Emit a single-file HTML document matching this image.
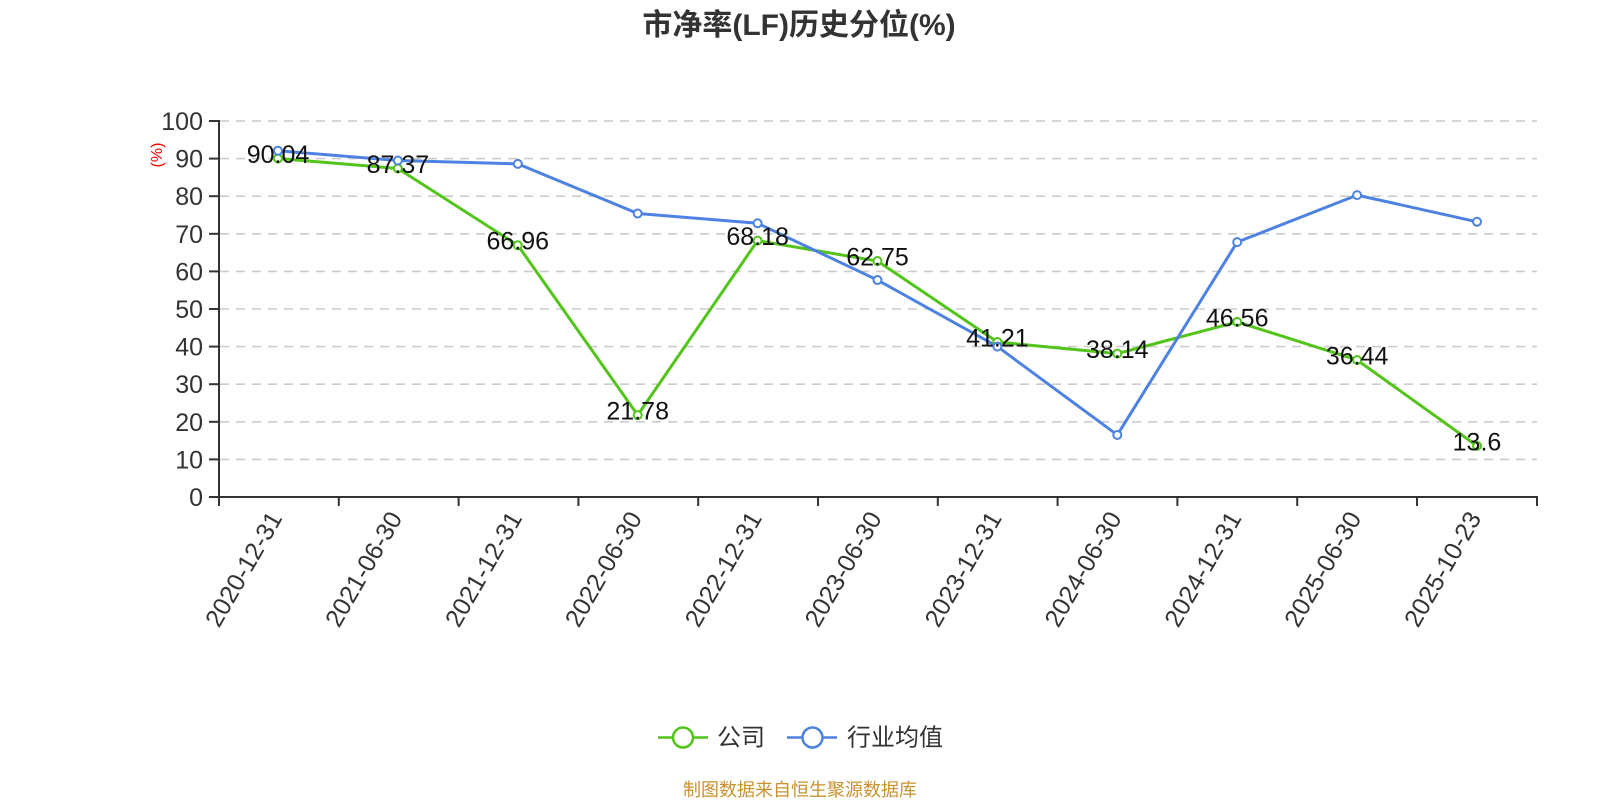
<!DOCTYPE html>
<html><head><meta charset="utf-8"><style>
html,body{margin:0;padding:0;background:#fff;}
svg{display:block;}
text{font-family:"Liberation Sans","Noto Sans CJK SC",sans-serif;}
</style></head><body>
<svg width="1600" height="800" viewBox="0 0 1600 800" xmlns="http://www.w3.org/2000/svg">
<rect width="1600" height="800" fill="#fff"/>
<text x="799" y="35" text-anchor="middle" font-size="30" font-weight="bold" fill="#333">市净率(LF)历史分位(%)</text>
<g stroke="#ccc" stroke-width="1.6" stroke-dasharray="9 7" fill="none">
<line x1="220" y1="121" x2="1537" y2="121"/>
<line x1="220" y1="158.6" x2="1537" y2="158.6"/>
<line x1="220" y1="196.2" x2="1537" y2="196.2"/>
<line x1="220" y1="233.8" x2="1537" y2="233.8"/>
<line x1="220" y1="271.4" x2="1537" y2="271.4"/>
<line x1="220" y1="309" x2="1537" y2="309"/>
<line x1="220" y1="346.6" x2="1537" y2="346.6"/>
<line x1="220" y1="384.2" x2="1537" y2="384.2"/>
<line x1="220" y1="421.8" x2="1537" y2="421.8"/>
<line x1="220" y1="459.4" x2="1537" y2="459.4"/>
</g>
<g stroke="#333" stroke-width="2" fill="none">
<line x1="219" y1="120" x2="219" y2="498"/>
<line x1="218" y1="497" x2="1538" y2="497"/>
<line x1="209" y1="121" x2="219" y2="121"/>
<line x1="209" y1="158.6" x2="219" y2="158.6"/>
<line x1="209" y1="196.2" x2="219" y2="196.2"/>
<line x1="209" y1="233.8" x2="219" y2="233.8"/>
<line x1="209" y1="271.4" x2="219" y2="271.4"/>
<line x1="209" y1="309" x2="219" y2="309"/>
<line x1="209" y1="346.6" x2="219" y2="346.6"/>
<line x1="209" y1="384.2" x2="219" y2="384.2"/>
<line x1="209" y1="421.8" x2="219" y2="421.8"/>
<line x1="209" y1="459.4" x2="219" y2="459.4"/>
<line x1="209" y1="497" x2="219" y2="497"/>
<line x1="219" y1="497" x2="219" y2="506"/>
<line x1="338.8" y1="497" x2="338.8" y2="506"/>
<line x1="458.6" y1="497" x2="458.6" y2="506"/>
<line x1="578.4" y1="497" x2="578.4" y2="506"/>
<line x1="698.2" y1="497" x2="698.2" y2="506"/>
<line x1="818" y1="497" x2="818" y2="506"/>
<line x1="937.8" y1="497" x2="937.8" y2="506"/>
<line x1="1057.6" y1="497" x2="1057.6" y2="506"/>
<line x1="1177.4" y1="497" x2="1177.4" y2="506"/>
<line x1="1297.2" y1="497" x2="1297.2" y2="506"/>
<line x1="1417" y1="497" x2="1417" y2="506"/>
<line x1="1537" y1="497" x2="1537" y2="506"/>
</g>
<g font-size="25" fill="#333" text-anchor="end">
<text x="203" y="130">100</text>
<text x="203" y="167.6">90</text>
<text x="203" y="205.2">80</text>
<text x="203" y="242.8">70</text>
<text x="203" y="280.4">60</text>
<text x="203" y="318">50</text>
<text x="203" y="355.6">40</text>
<text x="203" y="393.2">30</text>
<text x="203" y="430.8">20</text>
<text x="203" y="468.4">10</text>
<text x="203" y="506">0</text>
</g>
<text transform="translate(162,155) rotate(-90)" text-anchor="middle" font-size="16" fill="#f00">(%)</text>
<g font-size="25" fill="#333" text-anchor="end">
<text transform="translate(283,518) rotate(-60)">2020-12-31</text>
<text transform="translate(402.9,518) rotate(-60)">2021-06-30</text>
<text transform="translate(522.8,518) rotate(-60)">2021-12-31</text>
<text transform="translate(642.7,518) rotate(-60)">2022-06-30</text>
<text transform="translate(762.6,518) rotate(-60)">2022-12-31</text>
<text transform="translate(882.5,518) rotate(-60)">2023-06-30</text>
<text transform="translate(1002.4,518) rotate(-60)">2023-12-31</text>
<text transform="translate(1122.3,518) rotate(-60)">2024-06-30</text>
<text transform="translate(1242.2,518) rotate(-60)">2024-12-31</text>
<text transform="translate(1362.1,518) rotate(-60)">2025-06-30</text>
<text transform="translate(1482,518) rotate(-60)">2025-10-23</text>
</g>
<polyline fill="none" stroke="#52c41a" stroke-width="3" stroke-linejoin="round" points="278,158.45 397.9,168.49 517.8,245.23 637.7,415.11 757.6,240.64 877.5,261.06 997.4,342.05 1117.3,353.59 1237.2,321.93 1357.1,359.99 1477,445.86"/>
<polyline fill="none" stroke="#4e82e2" stroke-width="3" stroke-linejoin="round" points="278,150.7 397.9,160.5 517.8,163.9 637.7,213.5 757.6,223.3 877.5,280.05 997.4,346.6 1117.3,434.96 1237.2,242.1 1357.1,195.1 1477,221.8"/>
<g fill="#fff" stroke="#52c41a" stroke-width="2">
<circle cx="278" cy="158.45" r="4"/><circle cx="397.9" cy="168.49" r="4"/><circle cx="517.8" cy="245.23" r="4"/><circle cx="637.7" cy="415.11" r="4"/><circle cx="757.6" cy="240.64" r="4"/><circle cx="877.5" cy="261.06" r="4"/><circle cx="997.4" cy="342.05" r="4"/><circle cx="1117.3" cy="353.59" r="4"/><circle cx="1237.2" cy="321.93" r="4"/><circle cx="1357.1" cy="359.99" r="4"/><circle cx="1477" cy="445.86" r="4"/>
</g>
<g fill="#fff" stroke="#4e82e2" stroke-width="2">
<circle cx="278" cy="150.7" r="4"/><circle cx="397.9" cy="160.5" r="4"/><circle cx="517.8" cy="163.9" r="4"/><circle cx="637.7" cy="213.5" r="4"/><circle cx="757.6" cy="223.3" r="4"/><circle cx="877.5" cy="280.05" r="4"/><circle cx="997.4" cy="346.6" r="4"/><circle cx="1117.3" cy="434.96" r="4"/><circle cx="1237.2" cy="242.1" r="4"/><circle cx="1357.1" cy="195.1" r="4"/><circle cx="1477" cy="221.8" r="4"/>
</g>
<g font-size="25" fill="#111" text-anchor="middle">
<text x="278" y="163">90.04</text>
<text x="397.9" y="173">87.37</text>
<text x="517.8" y="249.7">66.96</text>
<text x="637.7" y="419.6">21.78</text>
<text x="757.6" y="245.1">68.18</text>
<text x="877.5" y="265.5">62.75</text>
<text x="997.4" y="346.5">41.21</text>
<text x="1117.3" y="358">38.14</text>
<text x="1237.2" y="326.4">46.56</text>
<text x="1357.1" y="364.5">36.44</text>
<text x="1477" y="450.3">13.6</text>
</g>
<line x1="658" y1="737.5" x2="708" y2="737.5" stroke="#52c41a" stroke-width="2.5"/>
<circle cx="683" cy="737.5" r="10" fill="#fff" stroke="#52c41a" stroke-width="2.5"/>
<text x="717" y="745.5" font-size="24" fill="#333">公司</text>
<line x1="787" y1="737.5" x2="837" y2="737.5" stroke="#4e82e2" stroke-width="2.5"/>
<circle cx="812.5" cy="737.5" r="10" fill="#fff" stroke="#4e82e2" stroke-width="2.5"/>
<text x="847" y="745.5" font-size="24" fill="#333">行业均值</text>
<text x="800" y="796" text-anchor="middle" font-size="18" fill="#c8922c">制图数据来自恒生聚源数据库</text>
</svg>
</body></html>
